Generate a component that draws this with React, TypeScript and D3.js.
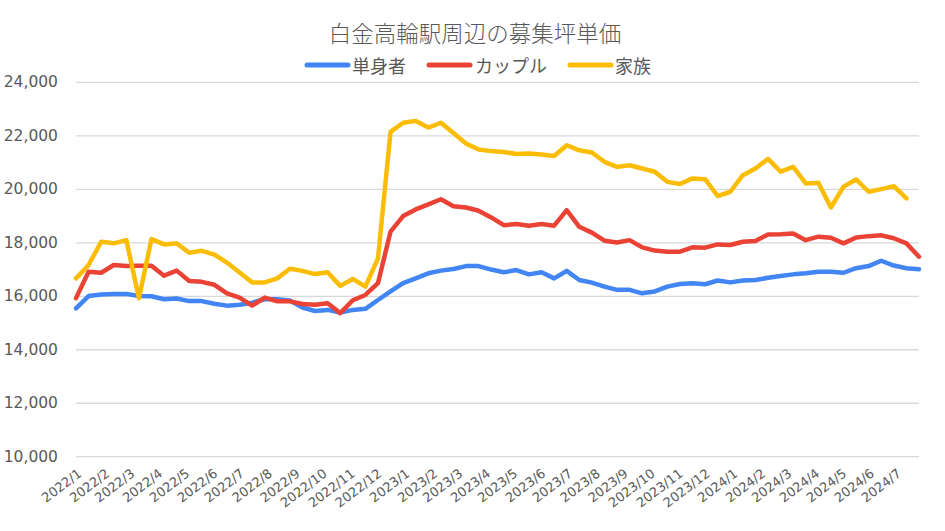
import React from "react";
import * as d3 from "d3";

const TITLE = "白金高輪駅周辺の募集坪単価";
const SERIES_NAMES = ["単身者", "カップル", "家族"];
const COLORS = ["#4285F4", "#EA4335", "#FBBC04"];

// biweekly observation dates start
const START_DATE = "2022-01-01";
const STEP_DAYS = 14;

const single = [
  15550, 16010, 16070, 16090, 16090, 16010, 16000, 15890, 15920, 15820,
  15820, 15720, 15650, 15680, 15760, 15890, 15890, 15840, 15580, 15450,
  15490, 15390, 15490, 15530, 15860, 16180, 16490, 16670, 16860, 16960,
  17020, 17130, 17130, 17000, 16900, 16980, 16820, 16900, 16670, 16950,
  16610, 16510, 16360, 16240, 16240, 16110, 16180, 16360, 16460, 16490,
  16450, 16590, 16520, 16590, 16610, 16690, 16760, 16820, 16860, 16920,
  16920, 16880, 17050, 17130, 17330, 17150, 17050, 17010,
];

const couple = [
  15930, 16920, 16880, 17170, 17130, 17140, 17140, 16770, 16960, 16570,
  16540, 16430, 16110, 15950, 15650, 15950, 15810, 15810, 15710, 15680,
  15740, 15370, 15850, 16050, 16490, 18420, 19000, 19250, 19440, 19630,
  19370, 19320, 19200, 18950, 18660, 18700, 18640, 18700, 18640, 19220,
  18600, 18380, 18080, 18010, 18100, 17830, 17710, 17670, 17670, 17830,
  17820, 17940, 17920, 18040, 18070, 18310, 18320, 18350, 18100, 18230,
  18190, 17980, 18200, 18250, 18280, 18170, 17980, 17480,
];

const family = [
  16670, 17170, 18040, 17980, 18100, 15930, 18140, 17940, 17980, 17630,
  17700, 17560, 17260, 16890, 16520, 16520, 16670, 17030, 16950, 16830,
  16900, 16390, 16650, 16360, 17420, 22150, 22490, 22560, 22310, 22490,
  22110, 21710, 21490, 21430, 21400, 21320, 21340, 21300, 21250, 21650,
  21460, 21380, 21030, 20840, 20900, 20780, 20660, 20280, 20200, 20410,
  20380, 19750, 19910, 20530, 20780, 21140, 20660, 20840, 20220, 20250,
  19320, 20100, 20370, 19910, 20010, 20120, 19660,
];

const Y_TICKS = [10000, 12000, 14000, 16000, 18000, 20000, 22000, 24000];
const TICK_START = "2022-01-01";
const TICK_END = "2024-07-01";

const W = 945;
const H = 531;

export default function App() {
  const parse = d3.timeParse("%Y-%m-%d");
  const start = parse(START_DATE) as Date;
  const seriesVals = [single, couple, family];
  const maxLen = d3.max(seriesVals, (s) => s.length) as number;
  const dates = d3.range(maxLen).map((i) => d3.timeDay.offset(start, i * STEP_DAYS));

  const x = d3
    .scaleTime()
    .domain([dates[0], dates[dates.length - 1]])
    .range([76, 919]);
  const y = d3.scaleLinear().domain([10000, 24000]).range([456.7, 82.4]);

  const monthTicks = d3.timeMonth.range(
    parse(TICK_START) as Date,
    d3.timeDay.offset(parse(TICK_END) as Date, 1)
  );
  const fmtX = d3.timeFormat("%Y/%-m");
  const fmtY = d3.format(",");

  const line = d3
    .line<number>()
    .x((_, i) => x(dates[i]))
    .y((d) => y(d));

  const numFont = "'DejaVu Sans', sans-serif";
  const jpFont = "'Noto Sans CJK JP', sans-serif";

  const legendItems = [
    { x0: 307, tx: 352 },
    { x0: 429, tx: 475 },
    { x0: 570, tx: 615 },
  ];

  return (
    <svg
      width={W}
      height={H}
      style={{ position: "absolute", left: 0, top: 0, background: "#fff" }}
    >
      <rect width={W} height={H} fill="#fff" />
      <text
        x={475}
        y={32}
        textAnchor="middle"
        dominantBaseline="central"
        fontFamily={jpFont}
        fontSize={22.5}
        fontWeight={300}
        fill="#595959"
      >
        {TITLE}
      </text>
      {SERIES_NAMES.map((name, k) => (
        <g key={name}>
          <line
            x1={legendItems[k].x0}
            x2={legendItems[k].x0 + 41}
            y1={65}
            y2={65}
            stroke={COLORS[k]}
            strokeWidth={5}
            strokeLinecap="round"
          />
          <text
            x={legendItems[k].tx}
            y={65}
            dominantBaseline="central"
            fontFamily={jpFont}
            fontSize={18}
            fill="#595959"
          >
            {name}
          </text>
        </g>
      ))}
      {Y_TICKS.map((t) => (
        <g key={t}>
          <line
            x1={76}
            x2={919}
            y1={y(t)}
            y2={y(t)}
            stroke="#d9d9d9"
            strokeWidth={1.3}
          />
          <text
            x={58}
            y={y(t)}
            textAnchor="end"
            dominantBaseline="central"
            fontFamily={numFont}
            fontSize={15.5}
            fill="#595959"
          >
            {fmtY(t)}
          </text>
        </g>
      ))}
      {monthTicks.map((d) => (
        <text
          key={d.toISOString()}
          transform={`translate(${x(d) + 1},${468}) rotate(-37)`}
          textAnchor="end"
          dy="0.71em"
          fontFamily={numFont}
          fontSize={13}
          fill="#595959"
        >
          {fmtX(d)}
        </text>
      ))}
      {seriesVals.map((vals, k) => (
        <path
          key={k}
          d={line(vals) as string}
          fill="none"
          stroke={COLORS[k]}
          strokeWidth={4.5}
          strokeLinejoin="round"
          strokeLinecap="round"
        />
      ))}
    </svg>
  );
}
